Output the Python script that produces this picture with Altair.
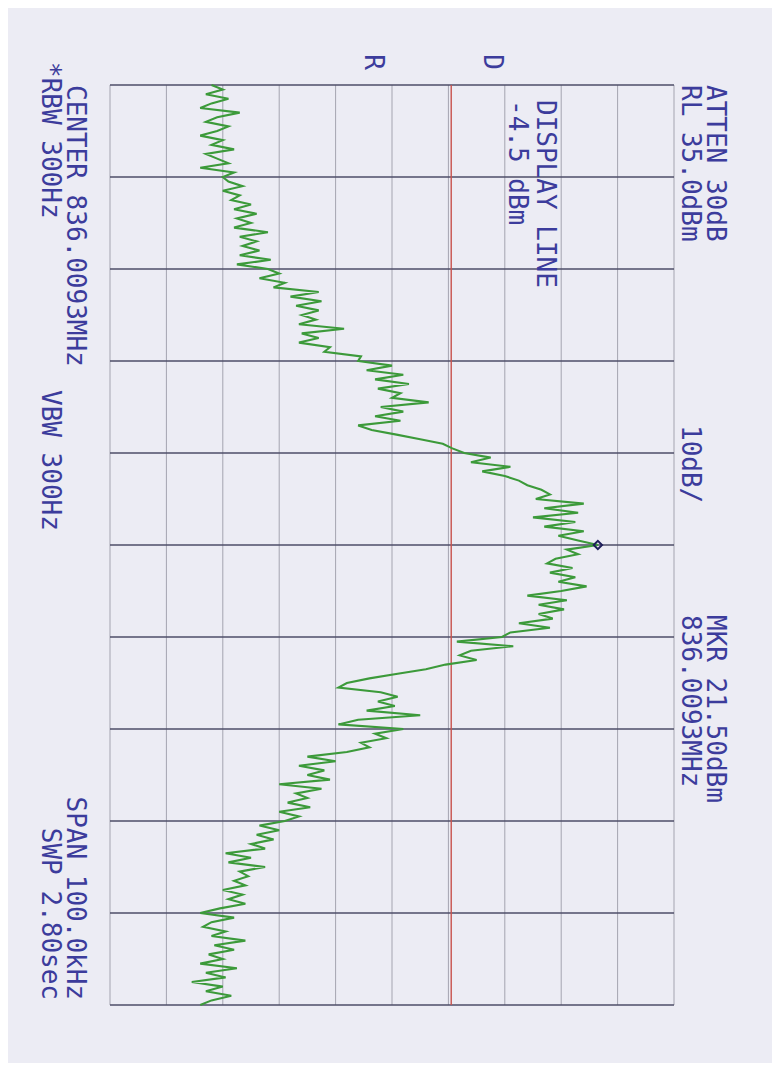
import altair as alt
import pandas as pd

# ---- data -----------------------------------------------------------------
# trace amplitude (dBm), one value every 0.5 kHz from -50 kHz to +50 kHz
amp_dbm = [
    -47, -45, -48, -44, -47, -49, -42, -46, -48, -44, -46, -49, -45, -47, -43, -48, -46, -44, -49, -43, -45,
    -44, -41.5, -45, -42, -43.5, -40, -43, -39, -42.5, -40, -43, -37, -42, -39, -41.5, -38.5, -42, -36.5, -42.5, -37,
    -35, -38.5, -34, -36, -28, -33, -27.5, -32, -28, -31, -28.5, -31.5, -23.5, -31, -28, -31.5, -26, -27, -20.5, -21,
    -15, -19.5, -13, -18, -12, -17.5, -13.5, -15, -8.5, -17, -13, -18, -13.5, -21, -18.6, -14.2, -10, -6, -4.3, -2.2,
    2.5, -1, 6, 1, 5, 7.5, 9, 11.5, 13, 10.5, 19, 12, 18, 10, 17.5, 12, 19, 14.5, 18, 21.5,
    16, 18, 14, 12.5, 17, 13, 17.5, 14.5, 19.5, 15, 9, 16, 11, 15.5, 11, 13.5, 7.5, 13, 6, 4.5,
    -3.5, 6.5, -1, -3, 0, -5.5, -9, -14, -19, -23, -24.5, -17, -14, -17.5, -14.5, -19.5, -10, -21, -24.5, -13,
    -18, -16, -20.5, -19, -23, -30, -25, -31.5, -27, -30, -26, -35, -27.5, -32, -30, -33.5, -29.5, -35, -31.5, -34,
    -38.5, -35, -39, -36, -40, -37.5, -44.5, -40, -44, -37.5, -42, -40.5, -43, -41, -45, -41.5, -44, -41, -45.5, -49,
    -43, -47, -48.5, -44.5, -47, -41, -46.5, -43, -47.5, -45, -49, -42.5, -48, -44.5, -50.5, -45, -48, -43.5, -47, -49,
]
freq_step_khz = 0.5
freq_start_khz = -50
freq_khz = [freq_start_khz + freq_step_khz * i for i in range(len(amp_dbm))]

amp_grid = [-65, -55, -45, -35, -25, -15, -5, 5, 15, 25, 35]      # 10 dB/div, RL 35 dBm
freq_grid = [-50, -40, -30, -20, -10, 0, 10, 20, 30, 40, 50]       # 10 kHz/div
display_line_dbm = [-4.5]
marker_amp = [21.5]
marker_freq = [0.0]

labels_left = ["ATTEN 30dB", "RL 35.0dBm", "10dB/", "MKR 21.50dBm", "836.0093MHz",
               "DISPLAY LINE", "-4.5 dBm", "CENTER 836.0093MHz", "*RBW 300Hz", "VBW 300Hz"]
labels_right = ["SPAN 100.0kHz", "SWP 2.80sec"]
labels_mid = ["R", "D"]

# ---- layout / style -------------------------------------------------------
BG = "#ececf4"
TXT = "#3c3c9c"
FONT = "DejaVu Sans Mono"
FS = 26

pos_left = [(605, 0), (580, 0), (580, 340), (605, 530), (580, 530),
            (435, 15), (407, 15), (-35, 0), (-60, -23), (-60, 305)]
pos_right = [(-35, 915), (-60, 915)]
pos_mid = [(263, -23), (382, -23)]

trace_df = pd.DataFrame({"freq": freq_khz, "amp": amp_dbm, "i": range(len(amp_dbm))})

xs = alt.Scale(domain=[-65, 35], nice=False, zero=False)
ys = alt.Scale(domain=[-50, 50], nice=False, zero=False, reverse=True)

vgrid = alt.Chart(pd.DataFrame({"amp": amp_grid})).mark_rule(
    color="#a4a4b0", strokeWidth=1).encode(x=alt.X("amp:Q", scale=xs, axis=None))

hgrid = alt.Chart(pd.DataFrame({"freq": freq_grid})).mark_rule(
    color="#4e4e68", strokeWidth=1.4).encode(y=alt.Y("freq:Q", scale=ys, axis=None))

dline = alt.Chart(pd.DataFrame({"amp": display_line_dbm})).mark_rule(
    color="#c8524e", strokeWidth=1.4).encode(x=alt.X("amp:Q", scale=xs, axis=None))

trace = alt.Chart(trace_df).mark_line(color="#3c9a3a", strokeWidth=2.1).encode(
    x=alt.X("amp:Q", scale=xs, axis=None),
    y=alt.Y("freq:Q", scale=ys, axis=None),
    order="i:Q",
)

marker = alt.Chart(pd.DataFrame({"amp": marker_amp, "freq": marker_freq})).mark_point(
    shape="diamond", size=70, filled=False, color="#1e1e5a", strokeWidth=2, opacity=1).encode(
    x=alt.X("amp:Q", scale=xs, axis=None),
    y=alt.Y("freq:Q", scale=ys, axis=None),
)

layers = [vgrid, hgrid, dline, trace, marker]


def text_layer(t, p, align):
    return alt.Chart(pd.DataFrame({"t": [t]})).mark_text(
        angle=90, align=align, baseline="middle", font=FONT, fontSize=FS, color=TXT
    ).encode(x=alt.value(p[0]), y=alt.value(p[1]), text="t:N")


for t, p in zip(labels_left, pos_left):
    layers.append(text_layer(t, p, "left"))
for t, p in zip(labels_right, pos_right):
    layers.append(text_layer(t, p, "right"))
for t, p in zip(labels_mid, pos_mid):
    layers.append(text_layer(t, p, "center"))

chart = alt.layer(*layers).properties(
    width=564, height=920,
    autosize=alt.AutoSizeParams(type="none"),
    padding={"left": 102, "top": 77, "right": 98, "bottom": 58},
    background=BG,
).configure_view(stroke=None, fill=BG)

chart.save("out.html", embed_options={"renderer": "svg", "actions": False})
